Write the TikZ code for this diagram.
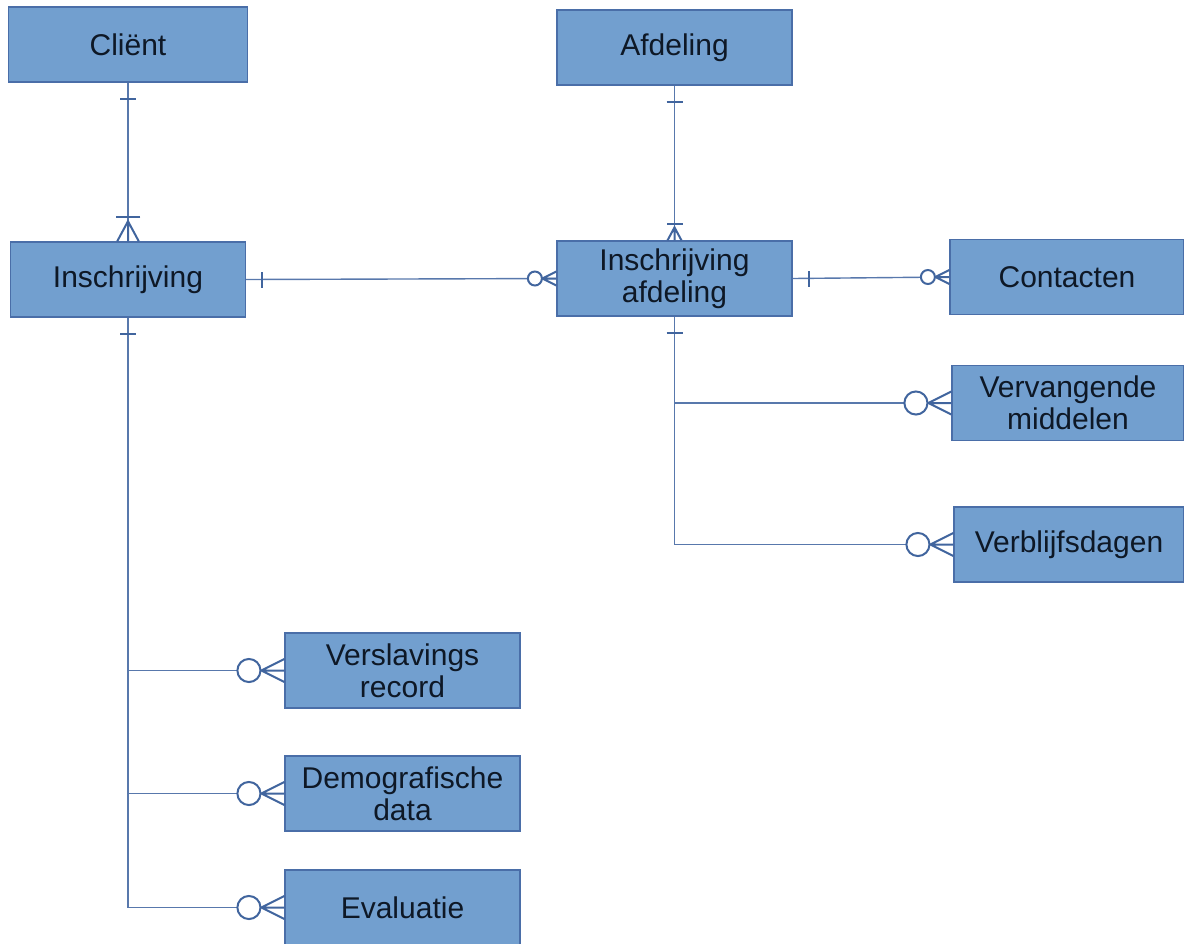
\documentclass[tikz,border=0pt]{standalone}
\usepackage{fontspec}
\setmainfont{Liberation Sans}
\definecolor{boxfill}{HTML}{729FCF}
\definecolor{boxline}{HTML}{4A6EA8}
\definecolor{linkblue}{HTML}{5878AC}
\definecolor{tipblue}{HTML}{41659E}
\definecolor{txt}{HTML}{0E1826}
\tikzset{
    entity/.style={rectangle, fill=boxfill, draw=boxline, line width=1.2pt, minimum width=235pt, minimum height=75pt,
        inner sep=0pt, align=center, text=txt, font=\fontsize{30}{32}\selectfont},
    link/.style={draw=linkblue, line width=1.4pt},
    tipline/.style={draw=tipblue, line width=2pt},
    barone/.pic={\draw[tipline] (-16,-8)--(-16,8);},
    crowone/.pic={\draw[tipline] (-16,-8)--(-16,8); \draw[tipline] (0,-7)--(-13,0)--(0,7) (-13,0)--(0,0);},
    crowzero/.pic={\draw[tipline] (0,-7)--(-14,0)--(0,7) (-14,0)--(0,0); \draw[tipline, fill=white] (-21.5,0) circle[radius=7];}
}
\begin{document}
\begin{tikzpicture}[x=1pt, y=-1pt]
    \useasboundingbox (0,0) rectangle (1184,943); \clip (0,0) rectangle (1184,943);
    \node[entity, minimum width=239pt] (client) at (128,44.5) {Cliënt};
    \node[entity] (afdeling) at (674.5,47.5) {Afdeling};
    \node[entity] (inschr) at (128,279.5) {Inschrijving};
    \node[entity] (insafd) at (674.5,278.5) {Inschrijving\\afdeling};
    \node[entity, minimum width=234pt] (contacten) at (1067,277) {Contacten};
    \node[entity, minimum width=232pt] (vervang) at (1068,403) {Vervangende\\middelen};
    \node[entity, minimum width=230pt] (verblijf) at (1069,544.5) {Verblijfsdagen};
    \node[entity] (verslav) at (402.5,670.5) {Verslavings\\record};
    \node[entity] (demo) at (402.5,793.5) {Demografische\\data};
    \node[entity] (eval) at (402.5,907.5) {Evaluatie};

    \draw[link] (client.south)--(inschr.north); \draw[link] (afdeling.south)--(insafd.north);
    \draw[link] (inschr.east)--(insafd.west); \draw[link] (insafd.east)--(contacten.west);
    \draw[link] (insafd.south) |- (vervang.west); \draw[link] (insafd.south) |- (verblijf.west);
    \draw[link] (inschr.south) |- (verslav.west); \draw[link] (inschr.south) |- (demo.west);
    \draw[link] (inschr.south) |- (eval.west);

    \pic[rotate=90] at (client.south) {barone}; \pic[rotate=-90, scale=1.55] at (inschr.north) {crowone};
    \pic[rotate=90] at (afdeling.south) {barone}; \pic[rotate=-90] at (insafd.north) {crowone};
    \pic[rotate=180] at (inschr.east) {barone}; \pic at (insafd.west) {crowzero};
    \pic[rotate=180] at (insafd.east) {barone}; \pic at (contacten.west) {crowzero};
    \pic[rotate=90] at (insafd.south) {barone}; \pic[rotate=90] at (inschr.south) {barone};
    \foreach \e in {vervang, verblijf, verslav, demo, eval}
        \pic[scale=1.65] at (\e.west) {crowzero};
\end{tikzpicture}
\end{document}
